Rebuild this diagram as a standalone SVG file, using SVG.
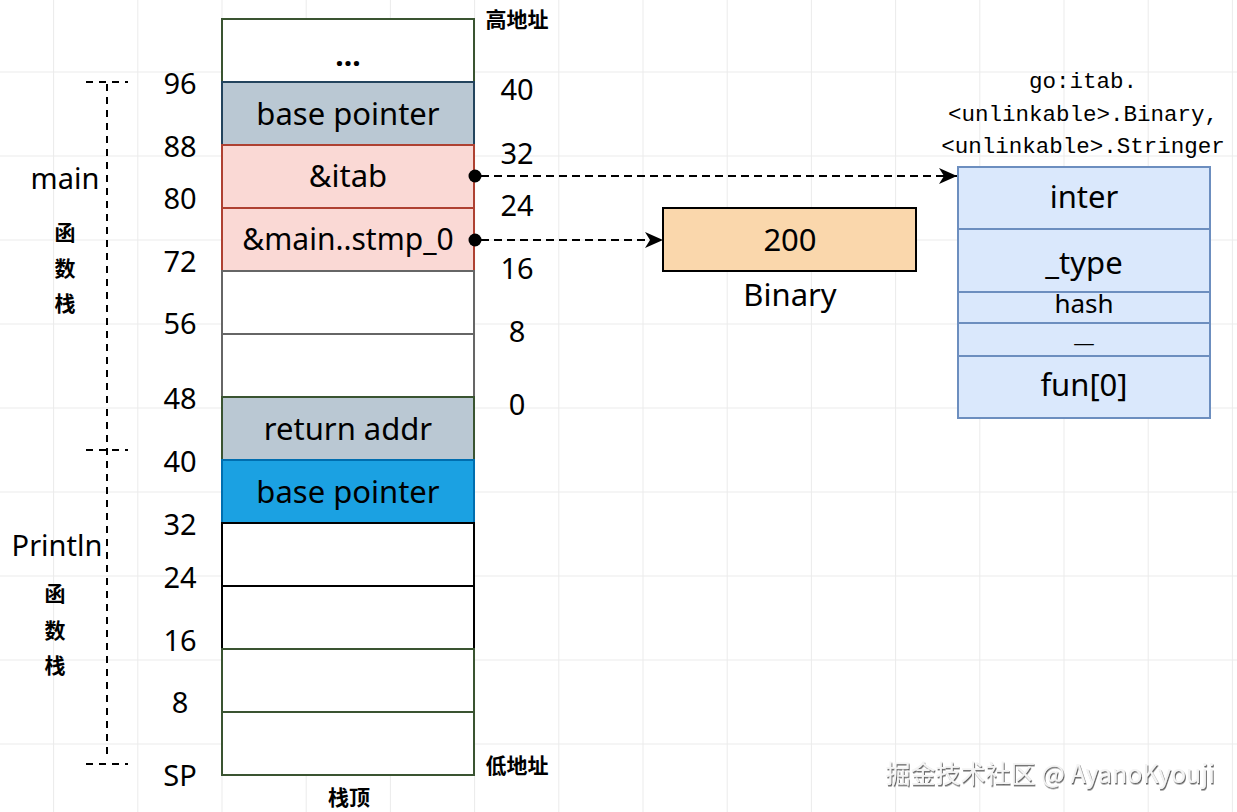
<svg xmlns="http://www.w3.org/2000/svg" width="1237" height="812" viewBox="0 0 1237 812">
<style>
.hw{font-family:"Noto Sans","DejaVu Sans",sans-serif;fill:#000;text-anchor:middle;dominant-baseline:central}
.cell{font-size:31px}
.num{font-size:29px}
.cjk{font-family:"Noto Sans CJK SC",sans-serif;font-size:21px;font-weight:bold;fill:#000;text-anchor:middle;dominant-baseline:central}
.mono{font-family:"Liberation Mono","DejaVu Sans Mono",monospace;font-size:22.5px;fill:#000;text-anchor:middle;dominant-baseline:central}
.br{fill:none;stroke:#000;stroke-width:2;stroke-dasharray:7 6}
.con{fill:none;stroke:#000;stroke-width:2;stroke-dasharray:8 5}
</style>
<defs>
<marker id="arr" viewBox="0 0 20 20" refX="19" refY="10" markerWidth="20" markerHeight="20" markerUnits="userSpaceOnUse" orient="auto">
<path d="M1,2 L19,10 L1,18 L6,10 Z" fill="#000"/>
</marker>
<filter id="sh" x="-5%" y="-30%" width="110%" height="160%">
<feDropShadow dx="1" dy="1.5" stdDeviation="0.6" flood-color="#555" flood-opacity="0.9"/>
</filter>
</defs>
<rect width="1237" height="812" fill="#fff"/>
<g id="grid" stroke="#ebebeb" stroke-width="1">
<path d="M53.6,0V812M137.8,0V812M222,0V812M306.2,0V812M390.4,0V812M474.6,0V812M558.8,0V812M643,0V812M727.2,0V812M811.4,0V812M895.6,0V812M979.8,0V812M1064,0V812M1148.2,0V812M1232.4,0V812"/>
<path d="M0,72H1237M0,156H1237M0,240H1237M0,324H1237M0,408H1237M0,492H1237M0,576H1237M0,660H1237M0,744H1237"/>
</g>

<g id="stack">
<g id="cell-dots"><rect x="222" y="19" width="252" height="63" fill="#fff" stroke="#3a5431" stroke-width="2"/><text class="hw" x="348" y="54" font-size="30" font-weight="bold">...</text></g>
<g id="cell-bp1"><rect x="222" y="82" width="252" height="63" fill="#bac8d3" stroke="#23445d" stroke-width="2"/><text class="hw cell" x="348" y="113">base pointer</text></g>
<g id="cell-itab"><rect x="222" y="145" width="252" height="63" fill="#fad9d5" stroke="#ae4132" stroke-width="2"/><text class="hw cell" x="348" y="175">&amp;itab</text></g>
<g id="cell-stmp"><rect x="222" y="208" width="252" height="63" fill="#fad9d5" stroke="#ae4132" stroke-width="2"/><text class="hw" x="348" y="238" font-size="30">&amp;main..stmp_0</text></g>
<g id="cell-e1"><rect x="222" y="271" width="252" height="63" fill="#fff" stroke="#666" stroke-width="2"/></g>
<g id="cell-e2"><rect x="222" y="334" width="252" height="63" fill="#fff" stroke="#666" stroke-width="2"/></g>
<g id="cell-ret"><rect x="222" y="397" width="252" height="63" fill="#bac8d3" stroke="#3a5431" stroke-width="2"/><text class="hw cell" x="348" y="428">return addr</text></g>
<g id="cell-bp2"><rect x="222" y="460" width="252" height="63" fill="#1ba1e2" stroke="#006eaf" stroke-width="2"/><text class="hw cell" x="348" y="491">base pointer</text></g>
<g id="cell-e3"><rect x="222" y="523" width="252" height="63" fill="#fff" stroke="#000" stroke-width="2"/></g>
<g id="cell-e4"><rect x="222" y="586" width="252" height="63" fill="#fff" stroke="#000" stroke-width="2"/></g>
<g id="cell-e5"><rect x="222" y="649" width="252" height="63" fill="#fff" stroke="#3a5431" stroke-width="2"/></g>
<g id="cell-e6"><rect x="222" y="712" width="252" height="63" fill="#fff" stroke="#3a5431" stroke-width="2"/></g>
</g>

<g id="labels-left">
<text class="hw num" x="180" y="82">96</text>
<text class="hw num" x="180" y="145">88</text>
<text class="hw num" x="180" y="197">80</text>
<text class="hw num" x="180" y="260">72</text>
<text class="hw num" x="180" y="322">56</text>
<text class="hw num" x="180" y="397">48</text>
<text class="hw num" x="180" y="460">40</text>
<text class="hw num" x="180" y="523">32</text>
<text class="hw num" x="180" y="576">24</text>
<text class="hw num" x="180" y="639">16</text>
<text class="hw num" x="180" y="701">8</text>
<text class="hw num" x="180" y="774">SP</text>
</g>
<g id="labels-right">
<text class="hw num" x="517" y="88">40</text>
<text class="hw num" x="517" y="152">32</text>
<text class="hw num" x="517" y="204">24</text>
<text class="hw num" x="517" y="267">16</text>
<text class="hw num" x="517" y="330">8</text>
<text class="hw num" x="517" y="403">0</text>
</g>

<g id="addr-labels">
<text class="cjk" x="517" y="18">高地址</text>
<text class="cjk" x="517" y="764">低地址</text>
<text class="cjk" x="349" y="796">栈顶</text>
</g>

<g id="frame-main">
<text class="hw" x="65" y="177" font-size="29">main</text>
<text class="cjk" x="65" y="231">函</text>
<text class="cjk" x="65" y="267">数</text>
<text class="cjk" x="65" y="302">栈</text>
</g>
<g id="frame-println">
<text class="hw" x="57" y="544" font-size="29">Println</text>
<text class="cjk" x="55" y="592">函</text>
<text class="cjk" x="55" y="629">数</text>
<text class="cjk" x="55" y="664">栈</text>
</g>
<g id="brackets">
<path class="br" d="M86,82H128M86,450H128M86,764H128"/>
<path class="br" d="M107,84V760"/>
</g>

<g id="binary">
<rect x="663" y="208" width="253" height="63" fill="#fad7ac" stroke="#000" stroke-width="2"/>
<text class="hw cell" x="790" y="239">200</text>
<text class="hw cell" x="790" y="294">Binary</text>
</g>

<g id="itab">
<text class="mono" x="1083" y="82">go:itab.</text>
<text class="mono" x="1083" y="115">&lt;unlinkable&gt;.Binary,</text>
<text class="mono" x="1083" y="147">&lt;unlinkable&gt;.Stringer</text>
<rect x="958" y="167" width="252" height="62" fill="#dae8fc" stroke="#6c8ebf" stroke-width="2"/>
<rect x="958" y="229" width="252" height="63" fill="#dae8fc" stroke="#6c8ebf" stroke-width="2"/>
<rect x="958" y="292" width="252" height="31" fill="#dae8fc" stroke="#6c8ebf" stroke-width="2"/>
<rect x="958" y="323" width="252" height="33" fill="#dae8fc" stroke="#6c8ebf" stroke-width="2"/>
<rect x="958" y="356" width="252" height="62" fill="#dae8fc" stroke="#6c8ebf" stroke-width="2"/>
<text class="hw cell" x="1084" y="196">inter</text>
<text class="hw cell" x="1084" y="262">_type</text>
<text class="hw" x="1084" y="303" font-size="26">hash</text>
<text transform="translate(1084,342) scale(2.2,1)" x="0" y="0" font-family="Noto Sans,sans-serif" font-size="20" text-anchor="middle">_</text>
<text class="hw cell" x="1084" y="384">fun[0]</text>
</g>

<g id="connectors">
<circle cx="475" cy="176" r="6.5" fill="#000"/>
<circle cx="475" cy="240" r="6.5" fill="#000"/>
<path class="con" d="M481,176H957" marker-end="url(#arr)"/>
<path class="con" d="M481,240H663" marker-end="url(#arr)"/>
</g>

<text x="1215" y="783" text-anchor="end" font-family="Noto Sans CJK SC,Noto Sans,sans-serif" font-size="25" fill="#f4f4f4" filter="url(#sh)">掘金技术社区 @ AyanoKyouji</text>
</svg>
